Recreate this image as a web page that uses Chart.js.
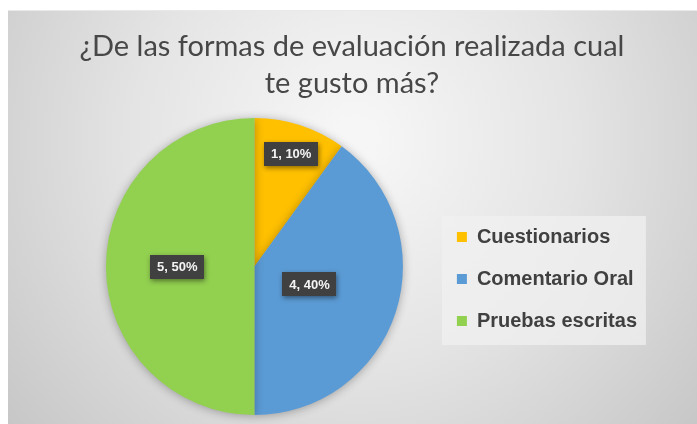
<!DOCTYPE html>
<html>
<head>
<meta charset="utf-8">
<script src="https://cdn.jsdelivr.net/npm/chart.js@4.4.1/dist/chart.umd.min.js"></script>
<style>
  html, body { margin: 0; padding: 0; background: #ffffff; }
  #wrap { width: 697px; height: 424px; }
</style>
</head>
<body>
<div id="wrap"><canvas id="pie-chart" width="697" height="424"></canvas></div>
<script>
// data
const categories = ['Cuestionarios', 'Comentario Oral', 'Pruebas escritas'];
const answers = [1, 4, 5];
const sliceColors = ['#FFC000', '#5B9BD5', '#92D050'];
const titleLines = ['¿De las formas de evaluación realizada cual', 'te gusto más?'];

// background: white strip on top/left, then a grey radial gradient
const backgroundPlugin = {
    id: 'background',
    beforeDraw(chart) {
        const ctx = chart.ctx;
        ctx.save();
        ctx.fillStyle = '#ffffff';
        ctx.fillRect(0, 0, chart.width, chart.height);
        const g = ctx.createRadialGradient(355, 140, 20, 355, 140, 470);
        g.addColorStop(0, '#f6f6f6');
        g.addColorStop(0.45, '#e4e4e4');
        g.addColorStop(1, '#c4c4c4');
        ctx.fillStyle = g;
        ctx.fillRect(8, 10, chart.width - 8, chart.height - 10);
        ctx.fillStyle = '#e9e9e9';
        ctx.fillRect(8, 10, chart.width - 8, 1);

        // light box behind the legend items
        const lg = chart.legend;
        if (lg && lg.legendHitBoxes && lg.legendHitBoxes.length) {
            const first = lg.legendHitBoxes[0];
            const last = lg.legendHitBoxes[lg.legendHitBoxes.length - 1];
            ctx.fillStyle = 'rgba(240, 240, 240, 0.75)';
            ctx.fillRect(first.left - 15, first.top - 11, 204, last.top + last.height + 14 - (first.top - 11));
        }
        ctx.restore();
    }
};

// two line title, centred over the whole chart box
const titlePlugin = {
    id: 'chartTitle',
    afterDraw(chart, args, opts) {
        const ctx = chart.ctx;
        ctx.save();
        ctx.font = '29px Lato, "Open Sans", sans-serif';
        ctx.fillStyle = '#474747';
        ctx.textAlign = 'center';
        ctx.textBaseline = 'middle';
        titleLines.forEach((line, i) => {
            ctx.fillText(line, opts.x, opts.y + i * opts.lineHeight);
        });
        ctx.restore();
    }
};

// soft shadow under the pie
const shadowPlugin = {
    id: 'pieShadow',
    beforeDatasetsDraw(chart) {
        const ctx = chart.ctx;
        ctx.save();
        ctx.shadowColor = 'rgba(0, 0, 0, 0.30)';
        ctx.shadowBlur = 10;
        ctx.shadowOffsetX = 0;
        ctx.shadowOffsetY = 1;
    },
    afterDatasetsDraw(chart) {
        chart.ctx.restore();
    }
};

// dark data label boxes "value, percent"
const labelPlugin = {
    id: 'sliceLabels',
    afterDatasetsDraw(chart, args, opts) {
        const ctx = chart.ctx;
        const meta = chart.getDatasetMeta(0);
        const values = chart.data.datasets[0].data;
        const total = values.reduce((a, b) => a + b, 0);
        ctx.save();
        ctx.font = 'bold 13px "Liberation Sans", Arial, sans-serif';
        ctx.textAlign = 'center';
        ctx.textBaseline = 'middle';
        meta.data.forEach((arc, i) => {
            const p = arc.getProps(['x', 'y', 'startAngle', 'endAngle', 'outerRadius'], true);
            const mid = (p.startAngle + p.endAngle) / 2;
            const r = p.outerRadius * opts.radius[i];
            const x = p.x + Math.cos(mid) * r;
            const y = p.y + Math.sin(mid) * r;
            const text = values[i] + ', ' + Math.round(values[i] / total * 100) + '%';
            const w = ctx.measureText(text).width + 14;
            const h = 24;
            ctx.shadowColor = 'rgba(0, 0, 0, 0.45)';
            ctx.shadowBlur = 5;
            ctx.shadowOffsetX = 1;
            ctx.shadowOffsetY = 2;
            ctx.fillStyle = '#404040';
            ctx.fillRect(Math.round(x - w / 2), Math.round(y - h / 2), Math.round(w), h);
            ctx.shadowColor = 'transparent';
            ctx.fillStyle = '#f4f4f4';
            ctx.fillText(text, x, y + 1);
        });
        ctx.restore();
    }
};

function createPieChart() {
    const ctx = document.getElementById('pie-chart').getContext('2d');
    return new Chart(ctx, {
        type: 'pie',
        data: {
            labels: categories,
            datasets: [{
                data: answers,
                backgroundColor: sliceColors,
                borderWidth: 0,
                hoverOffset: 0
            }]
        },
        options: {
            responsive: false,
            animation: false,
            layout: {
                padding: { left: 74, right: 50, top: 118, bottom: 9 }
            },
            plugins: {
                title: { display: false },
                legend: {
                    position: 'right',
                    title: {
                        display: true,
                        text: '',
                        font: { size: 1, lineHeight: 1 },
                        padding: { top: 24, bottom: 0 }
                    },
                    labels: {
                        boxWidth: 10,
                        boxHeight: 10,
                        padding: 22,
                        color: '#404040',
                        font: { family: '"Liberation Sans", Arial, sans-serif', size: 20, weight: 'bold' }
                    }
                },
                tooltip: { enabled: false },
                chartTitle: { x: 352, y: 47, lineHeight: 37 },
                sliceLabels: { radius: [0.8, 0.39, 0.52] }
            }
        },
        plugins: [backgroundPlugin, shadowPlugin, labelPlugin, titlePlugin]
    });
}

createPieChart();
</script>
</body>
</html>
